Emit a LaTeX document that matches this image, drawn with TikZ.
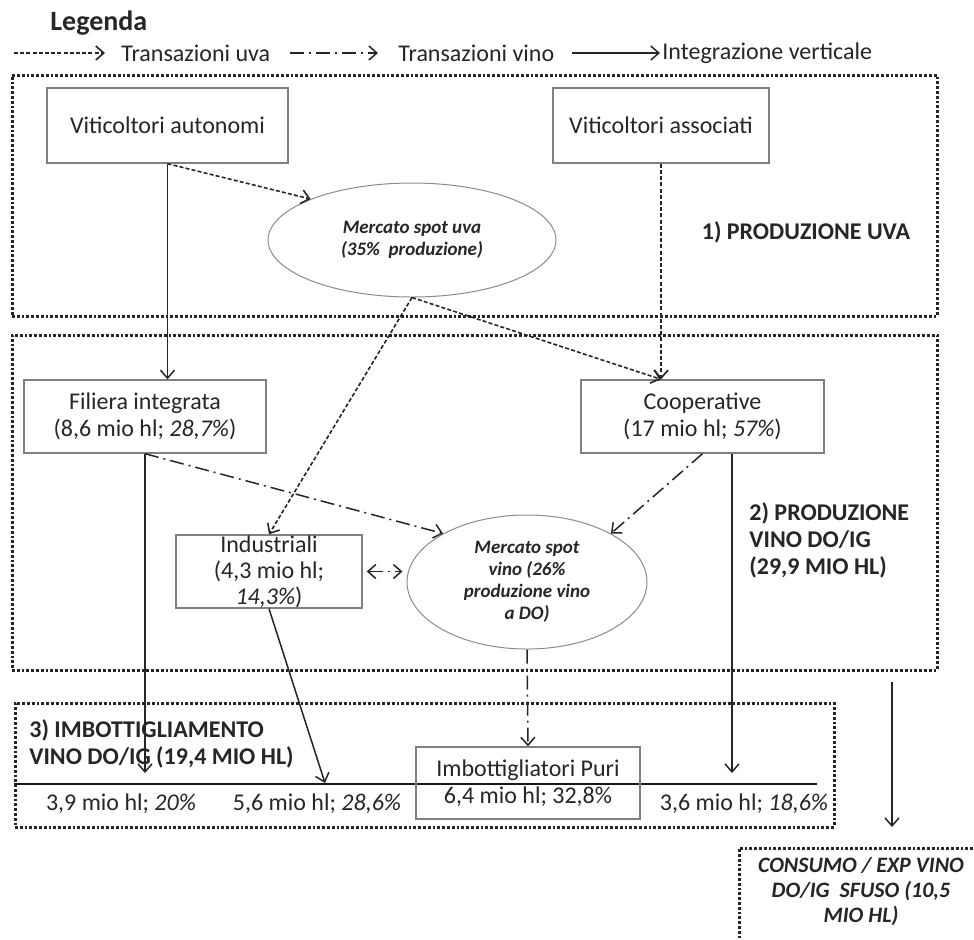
\documentclass[tikz,border=0pt]{standalone}
\usepackage{fontspec}
\setmainfont{Carlito}
\usetikzlibrary{arrows.meta,shapes.geometric}
\tikzset{
  bigbox/.style={draw=black!85, line width=1.5pt, dash pattern=on 1.4pt off 1.0pt, inner sep=0pt},
  nbox/.style={draw=black!50, line width=0.7pt, rectangle, inner sep=0pt, align=center,
    font=\fontsize{12}{13.5}\selectfont, text=black!85},
  ell/.style={draw=black!45, line width=0.5pt, ellipse, inner sep=0pt, align=center,
    font=\fontsize{9.5}{11}\selectfont\bfseries\itshape, text=black!85},
  lbl/.style={inner sep=0pt, font=\fontsize{12}{13.5}\selectfont, text=black!85},
  hdr/.style={inner sep=0pt, align=left, font=\fontsize{12}{13.5}\selectfont\bfseries, text=black!85},
  tip/.style={-{Straight Barb[length=4pt,width=7pt]}},
  grape/.style={tip, line width=0.8pt, dash pattern=on 2pt off 1.1pt, black!85},
  wine/.style={tip, line width=0.75pt, dash pattern=on 7pt off 2.5pt on 1pt off 2.5pt, black!85},
  integ/.style={tip, line width=0.75pt, black!85},
}
\begin{document}
\begin{tikzpicture}[x=0.5pt,y=-0.5pt]
\useasboundingbox[fill=white] (0,0) rectangle (974,939);

% legend
\node[inner sep=0pt, anchor=west, font=\fontsize{14}{16}\selectfont\bfseries, text=black!85] (leg) at (50,23) {Legenda};
\coordinate (l1a) at (14,53); \coordinate (l1b) at (105,53);
\coordinate (l2a) at (290,53); \coordinate (l2b) at (378,53);
\coordinate (l3a) at (572,53); \coordinate (l3b) at (660,53);
\node[lbl, anchor=west] (t1) at (121,53) {Transazioni uva};
\node[lbl, anchor=west] (t2) at (398,53) {Transazioni vino};
\node[lbl, anchor=west] (t3) at (662,53) {Integrazione verticale};
\draw[grape] (l1a) -- (l1b);
\draw[wine] (l2a) -- (l2b);
\draw[integ] (l3a) -- (l3b);

% big frames
\node[bigbox, minimum width=462.5pt, minimum height=120.5pt] (box1) at (474.5,195.5) {};
\node[bigbox, minimum width=462.5pt, minimum height=167.5pt] (box2) at (474.5,502.5) {};
\node[bigbox, minimum width=409.5pt, minimum height=62pt] (box3) at (424.5,765) {};
\node[bigbox, minimum width=123pt, minimum height=51pt] (consbox) at (862,899) {};

% section 1
\node[nbox, minimum width=120.5pt, minimum height=37.5pt] (va) at (167.5,125.5) {Viticoltori autonomi};
\node[nbox, minimum width=108pt, minimum height=37.5pt] (vs) at (661,125.5) {Viticoltori associati};
\node[ell, minimum width=144pt, minimum height=57pt] (eu) at (412,240) {Mercato spot uva\\(35\%\ \ produzione)};
\node[hdr] (pu) at (806,232) {1) PRODUZIONE UVA};

% section 2
\node[nbox, minimum width=121pt, minimum height=36.5pt] (fi) at (145,416.5) {Filiera integrata\\(8,6 mio hl; \textit{28,7\%})};
\node[nbox, minimum width=121.5pt, minimum height=36.5pt] (co) at (702.5,416.5) {Cooperative\\(17 mio hl; \textit{57\%})};
\node[nbox, minimum width=93pt, minimum height=36.5pt, font=\fontsize{12}{13}\selectfont] (in) at (269,571.5) {Industriali\\(4,3 mio hl;\\\textit{14,3\%})};
\node[ell, minimum width=120pt, minimum height=67pt] (ev) at (527,582) {Mercato spot\\vino (26\%\\produzione vino\\a DO)};
\node[hdr, anchor=west] (pv) at (749,540) {2) PRODUZIONE\\VINO DO/IG\\(29,9 MIO HL)};

% section 3
\node[hdr, anchor=west] (bt) at (29,743.5) {3) IMBOTTIGLIAMENTO\\VINO DO/IG (19,4 MIO HL)};
\coordinate (h1) at (14,784); \coordinate (h2) at (817,784);
\draw[line width=0.8pt, black!90] (h1) -- (h2);
\node[nbox, minimum width=112pt, minimum height=36pt] (ib) at (528,783) {Imbottigliatori Puri\\6,4 mio hl; 32,8\%};
\node[lbl] (a1) at (121,804) {3,9 mio hl; \textit{20\%}};
\node[lbl] (a2) at (317,804) {5,6 mio hl; \textit{28,6\%}};
\node[lbl] (a3) at (744,804) {3,6 mio hl; \textit{18,6\%}};

% consumo
\node[inner sep=0pt, align=center, font=\fontsize{11}{12.5}\selectfont\bfseries\itshape, text=black!85] (cons) at (861,892) {CONSUMO / EXP VINO\\DO/IG\ \ SFUSO (10,5\\MIO HL)};

% connectors
\coordinate (fiend) at (145,773);
\coordinate (coend) at (732,773);
\coordinate (inend) at (325,783);
\coordinate (c1) at (892,682);
\coordinate (c2) at (892,827);

\draw[integ] (va.south) -- (va.south |- fi.north);
\draw[grape] (va.south) -- (eu.158);
\draw[grape] (vs.south) -- (vs.south |- co.north);
\draw[grape] (eu.south) -- (vs.south |- co.north);
\draw[grape] (eu.south) -- (in.north);

\draw[wine] (fi.south) -- (ev.150);
\draw[wine] (co.south) -- (ev.30);
\draw[wine, {Straight Barb[length=4pt,width=7pt]}-{Straight Barb[length=4pt,width=7pt]}, shorten <=2pt, shorten >=2pt] (in.east) -- (in.east -| ev.west);

\draw[integ] (fi.south) -- (fiend);
\draw[integ] (coend |- co.south) -- (coend);
\draw[integ] (in.south) -- (inend);
\draw[wine] (ev.south) -- (ib.north);
\draw[integ] (c1) -- (c2);
\end{tikzpicture}
\end{document}
